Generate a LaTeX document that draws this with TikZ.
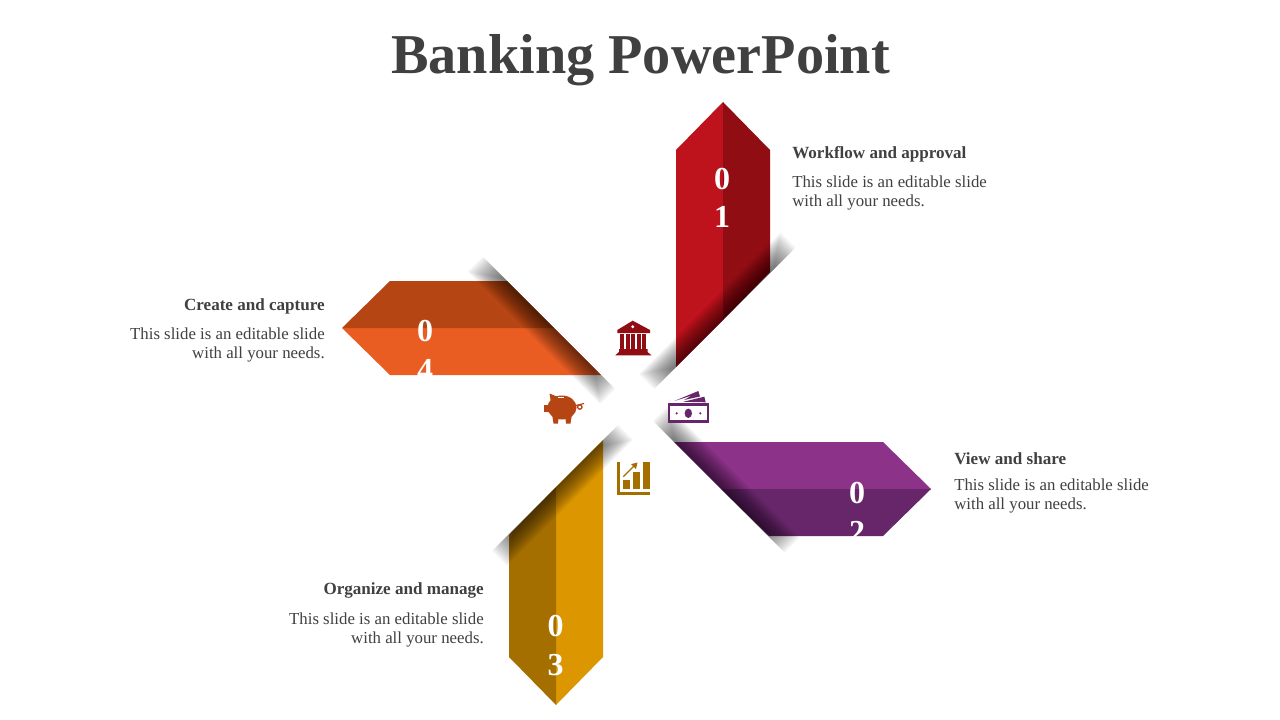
\documentclass[tikz,border=0pt]{standalone}
\usepackage{fontspec}
\setmainfont{Liberation Serif}
\usetikzlibrary{positioning}

\definecolor{inktext}{HTML}{404040}
\definecolor{redlight}{HTML}{BE121C}
\definecolor{reddark}{HTML}{8F0D13}
\definecolor{purplelight}{HTML}{8C3289}
\definecolor{purpledark}{HTML}{67266A}
\definecolor{yellowlight}{HTML}{DC9600}
\definecolor{yellowdark}{HTML}{A56F00}
\definecolor{orangelight}{HTML}{E95D23}
\definecolor{orangedark}{HTML}{B54512}

\tikzset{
  headline/.style={font=\fontsize{42.2}{48}\selectfont\bfseries, text=inktext, inner sep=0pt},
  itemhead/.style={font=\fontsize{12.8}{15}\selectfont\bfseries, text=inktext, inner sep=0pt},
  itembody/.style={font=\fontsize{12.6}{14.25}\selectfont, text=inktext, inner sep=0pt},
  itemnum/.style={font=\fontsize{24}{29}\selectfont\bfseries, text=white, inner sep=0pt, align=center}
}

% soft shadow along a cut edge: start point, page angle, length
\newcommand{\edgeshadow}[3]{
  \begin{scope}[shift={(#1)}, rotate=#2]
    \foreach \i in {0,...,15}
      \fill[black, opacity=0.045] ({\i*1.9},0) rectangle ({#3-\i*1.9},{-21+\i*1.32});
  \end{scope}
}

\begin{document}
\begin{tikzpicture}[x=0.75pt, y=-0.75pt]
  \useasboundingbox (0,0) rectangle (1280,720);
  \fill[white] (0,0) rectangle (1280,720);

  % Title
  \node[headline] (title) at (640.5,60) {Banking PowerPoint};

  % Define petals
  \fill[redlight] (723,102) -- (676,150) -- (676,367) -- (723,320) -- cycle;
  \fill[reddark] (723,102) -- (770,150) -- (770,272) -- (723,320) -- cycle;
  \fill[purplelight] (931,489) -- (883,442) -- (674,442) -- (721,489) -- cycle;
  \fill[purpledark] (931,489) -- (883,536) -- (769,536) -- (721,489) -- cycle;
  \fill[yellowlight] (556,705) -- (603,657) -- (603,440) -- (556,487) -- cycle;
  \fill[yellowdark] (556,705) -- (509,657) -- (509,535) -- (556,487) -- cycle;
  \fill[orangelight] (342,328) -- (390,375) -- (601,375) -- (554,328) -- cycle;
  \fill[orangedark] (342,328) -- (390,281) -- (507,281) -- (554,328) -- cycle;

  % Shadows on the cut edges
  \edgeshadow{654,389}{45}{200}
  \edgeshadow{653,421}{-45}{186}
  \edgeshadow{618,425}{225}{178}
  \edgeshadow{615,389}{135}{187}

  % Numbers
  \node[itemnum] (num1) at (722,198) {0\\1};
  \node[itemnum] (num2) at (857,512.5) {0\\2};
  \node[itemnum] (num3) at (555.5,645.5) {0\\3};
  \node[itemnum] (num4) at (425,350.5) {0\\4};

  % Define texts
  \node[itemhead, anchor=west] (head1) at (792,154) {Workflow and approval};
  \node[itembody, align=left, below=10pt of head1.south west, anchor=north west] (body1) {This slide is an editable slide\\with all your needs.};
  \node[itemhead, anchor=west] (head2) at (954,459) {View and share};
  \node[itembody, align=left, below=10pt of head2.south west, anchor=north west] (body2) {This slide is an editable slide\\with all your needs.};
  \node[itemhead, anchor=east] (head3) at (484,590) {Organize and manage};
  \node[itembody, align=right, below=10.5pt of head3.south east, anchor=north east] (body3) {This slide is an editable slide\\with all your needs.};
  \node[itemhead, anchor=east] (head4) at (325,306) {Create and capture};
  \node[itembody, align=right, below=10pt of head4.south east, anchor=north east] (body4) {This slide is an editable slide\\with all your needs.};

  % Bank icon
  \fill[reddark] (632.7,320.7) -- (650,330) -- (650,333) -- (617.3,333) -- (617.3,330) -- cycle;
  \fill[white] (632.7,326.7) circle (1.6);
  \foreach \x in {619.8,625.5,631,636.5,642}
    \fill[reddark] (\x,334.2) rectangle ++(4,15);
  \fill[reddark] (619,349) -- (647.5,349) -- (647.5,352) -- (651.5,355.3) -- (615.3,355.3) -- (619,352) -- cycle;

  % Money icon
  \fill[purpledark] (667.7,403.3) rectangle (709.3,423.3);
  \fill[white] (670.3,405.6) rectangle (706.7,420);
  \fill[purpledark] (688.3,413.3) ellipse (3.7 and 4.7);
  \fill[purpledark] (676.7,413.3) circle (1.2);
  \fill[purpledark] (700.3,413.3) circle (1.2);
  \fill[purpledark] (674.3,401) -- (698.3,391) -- (700,396.5) -- (684,400) -- (692,395.5) -- cycle;
  \fill[purpledark] (683.3,401.8) -- (704.3,396.7) -- (705.7,402.3) -- cycle;

  % Piggy icon
  \fill[orangedark] (562,407.5) ellipse (14.5 and 12);
  \fill[orangedark] (544,405) rectangle (552,412);
  \fill[orangedark] (549.5,393.5) -- (558,397) -- (551,403) -- cycle;
  \fill[orangedark] (552,414) -- (559,414) -- (558,423.5) -- (553.5,423.5) -- cycle;
  \fill[orangedark] (565,414) -- (572,414) -- (570.5,423.5) -- (566,423.5) -- cycle;
  \draw[white, line width=0.8pt] (558,397.5) -- (564,397.5);
  \draw[orangedark, line width=0.9pt] (576,405.5) -- (584,403.5);
  \draw[orangedark, line width=1pt] (579.8,407) circle (2.2);

  % Chart icon
  \fill[yellowdark] (617.3,461.7) rectangle (619.6,495);
  \fill[yellowdark] (617.3,492.3) rectangle (650,495);
  \fill[yellowdark] (623.3,480) rectangle (630,489.3);
  \fill[yellowdark] (633.3,471.7) rectangle (640,489.3);
  \fill[yellowdark] (643.3,462.3) rectangle (650,489.3);
  \draw[yellowdark, line width=0.9pt] (623.3,476.7) -- (634,466);
  \fill[yellowdark] (637.5,462.5) -- (636,469) -- (631,464.2) -- cycle;
\end{tikzpicture}
\end{document}
